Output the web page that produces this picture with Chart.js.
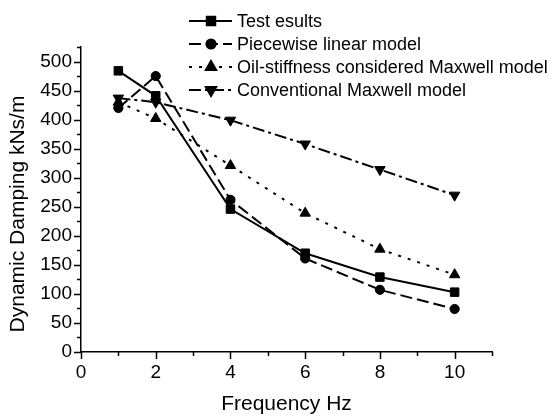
<!DOCTYPE html>
<html>
<head>
<meta charset="utf-8">
<style>
  html, body { margin: 0; padding: 0; background: #fff; }
  #wrap { width: 559px; height: 416px; }
</style>
<script src="https://cdn.jsdelivr.net/npm/chart.js@4.4.0/dist/chart.umd.min.js"></script>
</head>
<body>
<div id="wrap"><canvas id="c" width="559" height="416"></canvas></div>
<script>
// ---- data ----
const frequencies = [1, 2, 4, 6, 8, 10];
const testResults = [484, 441, 246, 170, 129, 103];
const piecewiseLinear = [420, 475, 262, 161, 107, 74];
const oilStiffnessMaxwell = [430, 402, 321, 239, 177, 133];
const conventionalMaxwell = [437, 430, 399, 358, 314, 270];
const seriesNames = ['Test esults', 'Piecewise linear model', 'Oil-stiffness considered Maxwell model', 'Conventional Maxwell model'];
const xTickLabels = ['0', '2', '4', '6', '8', '10'];
const yTickLabels = ['0', '50', '100', '150', '200', '250', '300', '350', '400', '450', '500'];

const FONT = "'Liberation Sans', Arial, Helvetica, sans-serif";
Chart.defaults.font.family = FONT;
Chart.defaults.color = '#000';

function pts(ys) { return frequencies.map((x, i) => ({ x: x, y: ys[i] })); }

const datasets = [
  { label: seriesNames[0], data: pts(testResults), borderDash: [], pointStyle: 'rect', pointRadius: 6, pointRotation: 0 },
  { label: seriesNames[1], data: pts(piecewiseLinear), borderDash: [12, 5], pointStyle: 'circle', pointRadius: 4.6, pointRotation: 0 },
  { label: seriesNames[2], data: pts(oilStiffnessMaxwell), borderDash: [3, 7], pointStyle: 'triangle', pointRadius: 6, pointRotation: 0 },
  { label: seriesNames[3], data: pts(conventionalMaxwell), borderDash: [12, 4, 3, 4], pointStyle: 'triangle', pointRadius: 6, pointRotation: 180 }
].map(d => Object.assign(d, {
  borderColor: '#000', backgroundColor: '#000', borderWidth: 2,
  pointBackgroundColor: '#000', pointBorderColor: '#000', pointBorderWidth: 1,
  showLine: true, fill: false, tension: 0
}));

// tick marks (major/minor) drawn from the scales
const tickMarks = {
  id: 'tickMarks',
  afterDraw(chart) {
    const ctx = chart.ctx;
    const xs = chart.scales.x, ys = chart.scales.y;
    const ca = chart.chartArea;
    ctx.save();
    ctx.strokeStyle = '#000';
    ctx.lineWidth = 1.5;
    ys.ticks.forEach(t => {
      const p = Math.round(ys.getPixelForValue(t.value)) + 0.5;
      const len = (t.value % 50 === 0) ? 7 : 4;
      ctx.beginPath(); ctx.moveTo(ca.left - len, p); ctx.lineTo(ca.left, p); ctx.stroke();
    });
    xs.ticks.forEach(t => {
      const p = Math.round(xs.getPixelForValue(t.value)) + 0.5;
      const len = (t.value % 2 === 0) ? 7 : 4;
      ctx.beginPath(); ctx.moveTo(p, ca.bottom); ctx.lineTo(p, ca.bottom + len); ctx.stroke();
    });
    ctx.restore();
  }
};

// axis titles
const axisTitles = {
  id: 'axisTitles',
  afterDraw(chart) {
    const ctx = chart.ctx;
    const ca = chart.chartArea;
    ctx.save();
    ctx.fillStyle = '#000';
    ctx.font = '21px ' + FONT;
    ctx.textAlign = 'center';
    ctx.textBaseline = 'alphabetic';
    ctx.fillText('Frequency Hz', (ca.left + ca.right) / 2, 410);
    ctx.translate(18, 214);
    ctx.rotate(-Math.PI / 2);
    ctx.textBaseline = 'middle';
    ctx.fillText('Dynamic Damping kNs/m', 0, 0);
    ctx.restore();
  }
};

// legend: line sample + marker + text
const lineLegend = {
  id: 'lineLegend',
  afterDraw(chart) {
    const ctx = chart.ctx;
    const rows = [21, 44, 67, 90];
    const x0 = 189, x1 = 232, xm = 211, xt = 237;
    ctx.save();
    chart.data.datasets.forEach((ds, i) => {
      const y = rows[i];
      ctx.strokeStyle = '#000';
      ctx.lineWidth = 2;
      ctx.setLineDash(ds.borderDash || []);
      ctx.beginPath(); ctx.moveTo(x0, y); ctx.lineTo(x1, y); ctx.stroke();
      ctx.setLineDash([]);
      ctx.fillStyle = '#000';
      ctx.strokeStyle = '#000';
      Chart.helpers.drawPoint(ctx, {
        pointStyle: ds.pointStyle, radius: ds.pointRadius, rotation: ds.pointRotation,
        borderWidth: 1
      }, xm, y);
      ctx.fillStyle = '#000';
      ctx.font = '18px ' + FONT;
      ctx.textAlign = 'left';
      ctx.textBaseline = 'middle';
      ctx.fillText(ds.label, xt, y + 1);
    });
    ctx.restore();
  }
};

new Chart(document.getElementById('c'), {
  type: 'scatter',
  data: { datasets: datasets },
  options: {
    responsive: false,
    animation: false,
    devicePixelRatio: 1,
    layout: { padding: { top: 47, right: 67, left: 0, bottom: 0 } },
    plugins: { legend: { display: false }, tooltip: { enabled: false } },
    scales: {
      x: {
        type: 'linear', min: 0, max: 11,
        afterFit(s) { s.height = 64; },
        grid: { display: false, drawTicks: false },
        border: { display: true, color: '#000', width: 1.5 },
        ticks: {
          stepSize: 1, padding: 9, font: { size: 19 }, color: '#000', maxRotation: 0, autoSkip: false,
          callback: v => (xTickLabels.indexOf(String(v)) >= 0 ? String(v) : '')
        }
      },
      y: {
        type: 'linear', min: 0, max: 525,
        afterFit(s) { s.width = 81; },
        grid: { display: false, drawTicks: false },
        border: { display: true, color: '#000', width: 1.5 },
        ticks: {
          stepSize: 25, padding: 9, font: { size: 19 }, color: '#000', autoSkip: false,
          callback: v => (yTickLabels.indexOf(String(v)) >= 0 ? String(v) : '')
        }
      }
    }
  },
  plugins: [tickMarks, axisTitles, lineLegend]
});
</script>
</body>
</html>
